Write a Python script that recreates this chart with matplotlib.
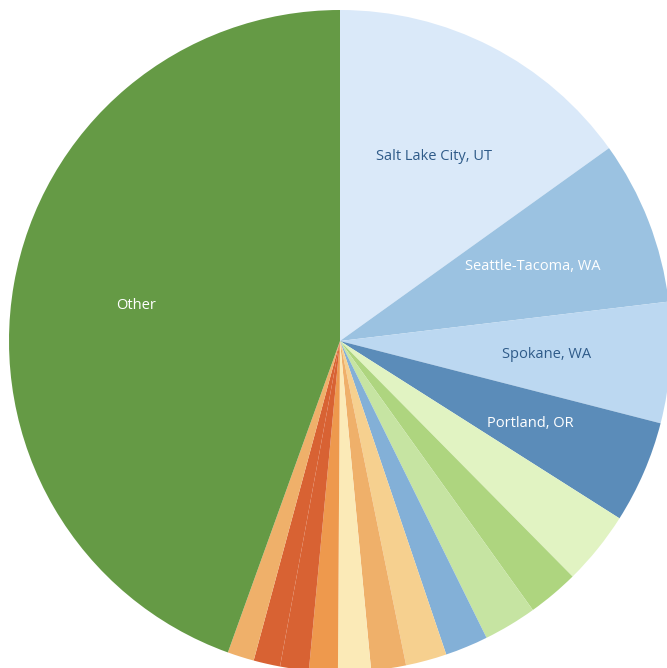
import matplotlib
matplotlib.use("Agg")
import matplotlib.pyplot as plt

plt.rcParams['font.family'] = ['Open Sans', 'DejaVu Sans']

# Share of each market (percent), clockwise from 12 o'clock
labels = ["Salt Lake City, UT", "Seattle-Tacoma, WA", "Spokane, WA", "Portland, OR",
          "", "", "", "", "", "", "", "", "", "", "", "Other"]
values = [15.1, 8.0, 5.9, 5.0, 3.6, 2.5, 2.6, 2.1, 2.0, 1.7, 1.6, 1.4, 1.4, 1.3, 1.3, 44.5]
colors = ["#dae9f9", "#9bc2e1", "#bcd8f1", "#5b8cb9", "#e1f3c2", "#aed57f", "#c6e4a2",
          "#83b0d7", "#f6d08f", "#efb06a", "#fbeab7", "#ee994d", "#d86233", "#d86233",
          "#efb06a", "#659a45"]
label_colors = ["#2f5b89", "#ffffff", "#2f5b89", "#ffffff"] + ["#ffffff"] * 11 + ["#ffffff"]

fig = plt.figure(figsize=(6.67, 6.68), dpi=100)
ax = fig.add_axes([9 / 667, -4 / 668, 662 / 667, 662 / 668])

wedges, texts = ax.pie(values, labels=labels, colors=colors, startangle=90,
                       counterclock=False, labeldistance=0.625,
                       wedgeprops=dict(linewidth=0),
                       textprops=dict(fontsize=10.5))
for t, c in zip(texts, label_colors):
    t.set_color(c)
    t.set_horizontalalignment('center')
    t.set_verticalalignment('center')

ax.set_xlim(-1, 1)
ax.set_ylim(-1, 1)
ax.set_aspect('equal')
ax.axis('off')

fig.savefig("out.png", dpi=100)
